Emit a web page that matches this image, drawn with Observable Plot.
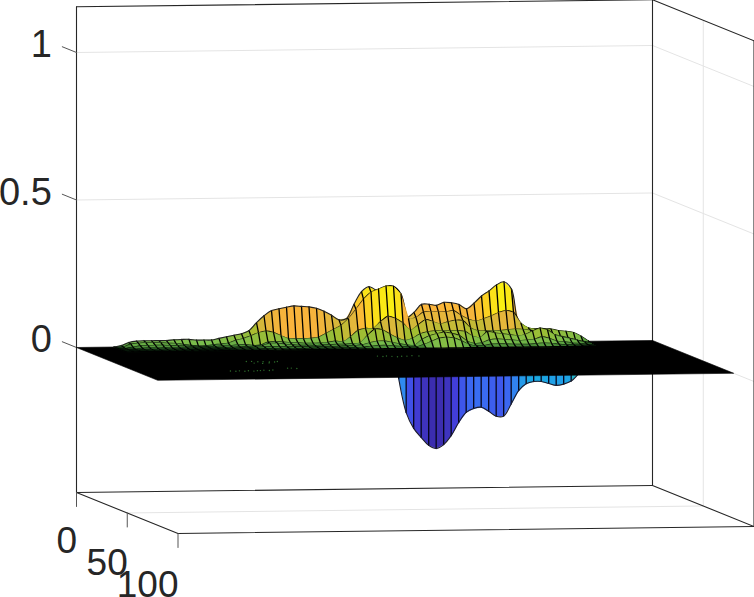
<!DOCTYPE html>
<html>
<head>
<meta charset="utf-8">
<style>html,body{margin:0;padding:0;background:#fff}svg{display:block}</style>
<script src="https://cdn.jsdelivr.net/npm/d3@7"></script>
<script src="https://cdn.jsdelivr.net/npm/@observablehq/plot@0.6"></script>
</head>
<body>
<div id="chart"></div>
<script>
// Axis ticks and limits
const zTicks = [0, 0.5, 1];
const zTickLabels = ["0", "0.5", "1"];
const yTicks = [0, 50, 100];
const yTickLabels = ["0", "50", "100"];
const xMax = 76.8, yMax = 100, zMin = -0.4915, zMax = 1.155, planeY = 80;

// Surface rows, back to front; values start at column 5
const firstCol = 5;
const rowY = [0, 2, 4, 6, 8, 10, 12];
const row0 = [0,.005,.015,.019,.02,.02,.02,.02,.022,.023,.023,.02,.02,.02,.025,.03,.035,.04,.05,.077,.10,.117,.123,.128,.132,.13,.128,.123,.113,.099,.083,.087,.135,.178,.194,.18,.15,.13,.10,.087,.105,.132,.132,.128,.138,.136,.13,.115,.134,.158,.175,.195,.205,.18,.06,.043,.043,.043,.043,.037,.033,.03,.01,0];
const row1 = [0,.002,.012,.014,.016,.015,.015,.013,.012,.008,.005,.002,.003,.006,.008,.011,.02,.026,.035,.045,.05,.045,.034,.024,.023,.023,.024,.027,.04,.053,.066,.089,.12,.154,.178,.188,.198,.197,.17,.086,.09,.108,.11,.108,.108,.112,.095,.082,.075,.083,.092,.103,.11,.103,.066,.05,.046,.046,.045,.04,.037,.033,.02,.003];
const row2 = [0,0,.004,.008,.009,.009,.009,.008,.007,.005,.003,.002,.002,.003,.004,.005,.008,.008,.005,.006,.016,.017,.015,.013,.012,.01,.01,.01,.012,.016,.013,.03,.052,.058,.058,.08,.098,.09,.074,.05,.067,.085,.078,.07,.077,.082,.08,.055,.045,.045,.045,.045,.048,.05,.048,.045,.042,.035,.03,.024,.018,.01,.005,.001];
const row3 = [0,0,0,.003,.003,.003,.003,.002,.002,.002,.001,.001,.001,.001,.002,.002,.003,.004,.005,.008,.014,.014,.01,.008,.006,.006,.005,.006,.007,.008,.008,.01,.012,.037,.058,.055,.04,.027,.018,.025,.04,.047,.05,.05,.05,.05,.046,.03,.025,.045,.04,.037,.033,.03,.033,.045,.055,.048,.03,.023,.018,.012,.005,.001];
const row4 = [0,0,0,.001,.001,.001,.001,.001,.001,0,0,0,0,0,0,.001,.002,.003,.004,.005,.006,.006,.005,.004,.004,.003,.003,.003,.003,.004,.005,.006,.008,.015,.02,.02,.015,.01,.006,.005,.024,.036,.043,.047,.043,.035,.016,.008,.01,.02,.022,.02,.018,.016,.018,.02,.028,.022,.012,.01,.006,.004,.001,0];
const row5 = [0,0,0,0,0,0,0,0,0,0,0,0,0,0,0,0,.001,.001,.001,.002,.002,.002,.002,.001,.001,.001,.001,.001,.001,.002,.002,.002,.003,.006,.008,.008,.006,.004,.002,.002,.01,.02,.03,.033,.03,.02,.008,.003,.004,.008,.009,.008,.007,.006,.006,.008,.01,.008,.005,.003,.002,.001,0,0];
const row6 = new Array(64).fill(0);
const surfaceRows = [row0, row1, row2, row3, row4, row5, row6];

// Trough hanging below the plane; values start at column 35
const troughFirstCol = 35;
const troughY = 58.8;
const trough = [-.034,-.15,-.204,-.235,-.262,-.273,-.26,-.23,-.186,-.152,-.139,-.135,-.149,-.166,-.166,-.125,-.08,-.057,-.05,-.05,-.057,-.064,-.06,-.05,-.025];

// Traces of mesh showing through the black plane (column, row position)
const speckX = [17.5,18.2,18.9,19.6,20.3,21,21.5,18,19,20,12.4,13,13.6,14.2,14.8,15.4,16,16.4,17,17.6,18.2,20.7,21.2,21.8,36.2,36.8,37.4,38,38.6,39.3,40,40.8,41.6];
const speckY = [38,38,39,39,40,40,39,42,43,42,60,61,60,61,60,61,60,60,59,60,59,55,55,56,29,30,29,30,31,30,30,29,30];

// Colour table (surface height → colour)
const colorDomain = [-.28,-.2,-.14,-.08,-.05,-.02,0,.003,.01,.02,.06,.09,.13,.17,.205];
const colorRange = ["#3a2aa6","#4340e0","#3a6bf2","#2c92ee","#1aa8e2","#2fbfa0","#0c2a10","#2f6a28","#5aa040","#78bc4c","#a5be30","#d6b83a","#fab43c","#fcd420","#f9f510"];

// 3-D view: column, row position and height → picture position
const px = (x, y) => 76 + 7.5 * x + 1.015 * y;
const py = (x, y, z) => 347 - 0.0912 * x + 0.41 * y - 295 * z;
const P = (x, y, z) => ({X: px(x, y), Y: py(x, y, z)});
const seg = (id, pts) => pts.map(p => ({...P(...p), id}));

// Box edges and grid
const boxEdges = [
  [[0,0,zMin],[0,0,zMax]], [[xMax,0,zMin],[xMax,0,zMax]], [[xMax,yMax,zMin],[xMax,yMax,zMax]],
  [[0,0,zMax],[xMax,0,zMax]], [[xMax,0,zMax],[xMax,yMax,zMax]],
  [[0,0,zMin],[xMax,0,zMin]], [[xMax,0,zMin],[xMax,yMax,zMin]],
  [[0,0,zMin],[0,yMax,zMin]], [[0,yMax,zMin],[xMax,yMax,zMin]]
].flatMap((e, i) => seg("b" + i, e));
const gridLines = [
  ...zTicks.flatMap(z => seg("gz" + z, [[0,0,z],[xMax,0,z],[xMax,yMax,z]])),
  ...yTicks.slice(1, 2).flatMap(y => seg("gy" + y, [[0,y,zMin],[xMax,y,zMin],[xMax,y,zMax]]))
];
const tickLen = 14;
const tickLines = [
  ...zTicks.flatMap(z => seg("tz" + z, [[0,0,z],[0,-tickLen,z]])),
  ...yTicks.flatMap(y => seg("ty" + y, [[0,y,zMin],[0,y,zMin - tickLen / 295]]))
];
const zLabels = zTicks.map((z, i) => ({...P(0, -tickLen, z), t: zTickLabels[i]}));
const yLabels = yTicks.map((y, i) => {
  const p = P(0, y, zMin);
  return {X: p.X, Y: p.Y + y * 0.03, t: yTickLabels[i]};
});

// Plane
const plane = seg("plane", [[0,0,0],[xMax,0,0],[xMax,planeY,0],[0,planeY,0],[0,0,0]]);

// Trough: filled cells, column lines and the smooth lower edge
const troughCells = [], troughCols = [];
trough.slice(0, -1).forEach((z, i) => {
  const a = troughFirstCol + i, b = a + 1, z2 = trough[i + 1];
  const c = (z + z2) / 2;
  seg("t" + i, [[a,troughY,0],[b,troughY,0],[b,troughY,z2],[a,troughY,z],[a,troughY,0]])
    .forEach(p => troughCells.push({...p, c}));
});
trough.forEach((z, i) => {
  const a = troughFirstCol + i;
  troughCols.push(...seg("tc" + i, [[a,troughY,0],[a,troughY,z]]));
});
const troughEdge = trough.map((z, i) => P(troughFirstCol + i, troughY, z));

// One set of marks per ribbon, painted back to front
const lineOpts = {x: "X", y: "Y", z: "id"};
const rowLine = r => surfaceRows[r].map((z, i) => P(firstCol + i, rowY[r], z));
const ribbonMarks = surfaceRows.slice(0, -1).flatMap((row, r) => {
  const next = surfaceRows[r + 1], y0 = rowY[r], y1 = rowY[r + 1];
  const cells = [], cols = [];
  row.forEach((z, i) => {
    const a = firstCol + i, b = a + 1;
    cols.push(...seg("c" + i, [[a,y0,z],[a,y1,next[i]]]));
    if (i === row.length - 1) return;
    const c = (z + row[i + 1]) / 2;
    seg("q" + i, [[a,y0,z],[b,y0,row[i + 1]],[b,y1,next[i + 1]],[a,y1,next[i]],[a,y0,z]])
      .forEach(p => cells.push({...p, c}));
  });
  return [
    Plot.line(cells, {...lineOpts, fill: "c", stroke: "c", strokeWidth: 0.5, strokeLinejoin: "round"}),
    Plot.line(cols, {...lineOpts, stroke: "#000", strokeWidth: 1.3}),
    ...(r === 0 ? [Plot.line(rowLine(0), {x: "X", y: "Y", curve: "catmull-rom", stroke: "#222", strokeWidth: 1.1})] : []),
    Plot.line(rowLine(r + 1), {x: "X", y: "Y", curve: "catmull-rom", stroke: "#000", strokeWidth: 1.4})
  ];
});
const specks = speckX.map((x, i) => P(x, speckY[i], 0));

const axisColor = "#262626";
const chart = Plot.plot({
  width: 754, height: 597,
  margin: 0,
  x: {domain: [0, 754], range: [0, 754], axis: null},
  y: {domain: [0, 597], range: [0, 597], axis: null},
  color: {type: "linear", domain: colorDomain, range: colorRange, clamp: true},
  style: {fontFamily: "'Liberation Sans', Arial, sans-serif", background: "#fff"},
  marks: [
    Plot.line(gridLines, {...lineOpts, stroke: "#e4e4e4", strokeWidth: 1}),
    Plot.line(boxEdges, {...lineOpts, stroke: axisColor, strokeWidth: 1.1}),
    Plot.line(tickLines, {...lineOpts, stroke: "#555", strokeWidth: 1}),
    Plot.line(troughCells, {...lineOpts, fill: "c", stroke: "c", strokeWidth: 0.5, strokeLinejoin: "round"}),
    Plot.line(troughCols, {...lineOpts, stroke: "#05051a", strokeWidth: 1.3}),
    Plot.line(troughEdge, {x: "X", y: "Y", curve: "catmull-rom", stroke: "#1c1c2c", strokeWidth: 1.1}),
    Plot.line(plane, {...lineOpts, fill: "#000", stroke: "#000", strokeWidth: 0.6}),
    Plot.dot(specks, {x: "X", y: "Y", r: 0.7, fill: "#2e6e2c", stroke: "none"}),
    ...ribbonMarks,
    Plot.text(zLabels, {x: "X", y: "Y", text: "t", dx: -10.5, dy: -1.5, textAnchor: "end", lineAnchor: "middle", fontSize: 38, fill: axisColor}),
    Plot.text(yLabels, {x: "X", y: "Y", text: "t", dx: 0.5, dy: 49, textAnchor: "end", lineAnchor: "middle", fontSize: 37, fill: axisColor})
  ]
});
document.getElementById("chart").append(chart);
</script>
</body>
</html>
